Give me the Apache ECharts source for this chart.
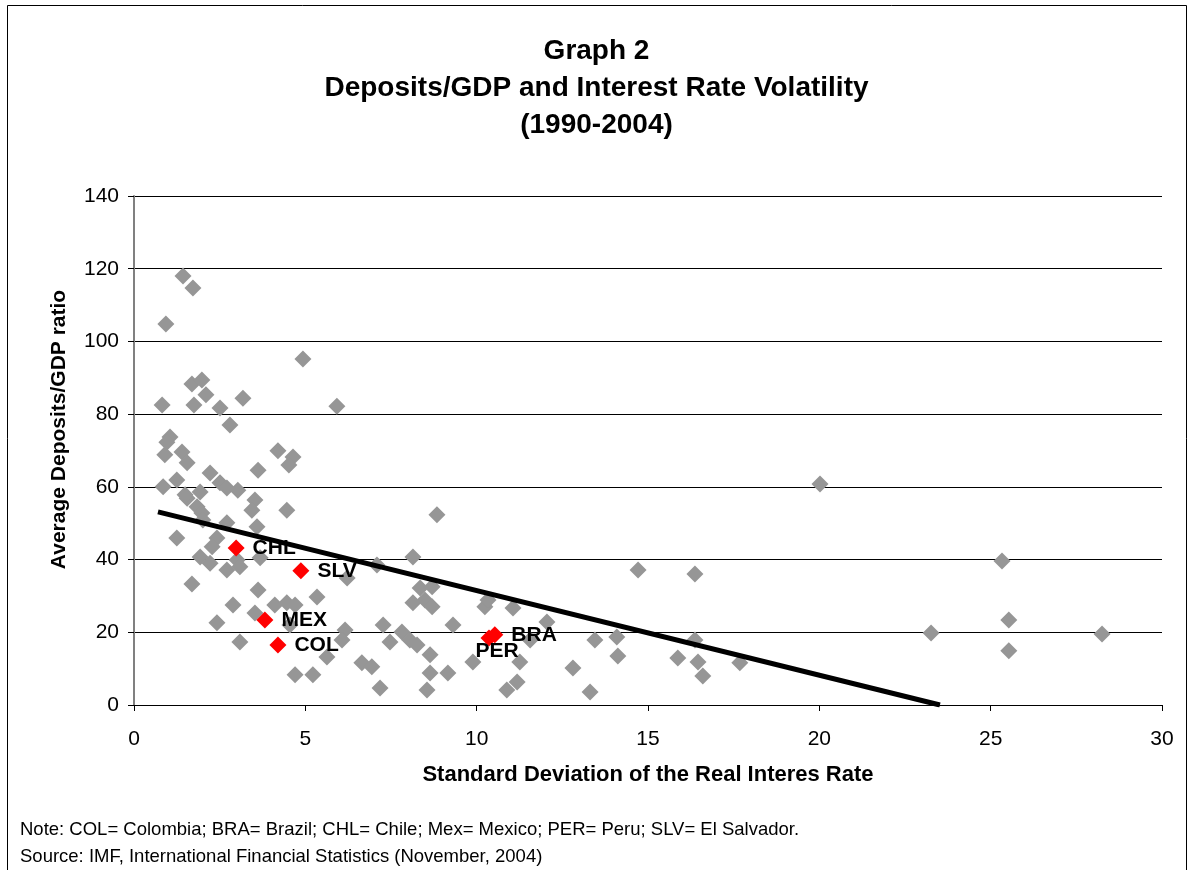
<!DOCTYPE html>
<html>
<head>
<meta charset="utf-8">
<title>Graph 2</title>
<script src="https://cdn.jsdelivr.net/npm/echarts@6/dist/echarts.min.js"></script>
<style>
  html, body { margin: 0; padding: 0; background: #fff; }
  #main { width: 1193px; height: 870px; }
</style>
</head>
<body>
<div id="main"></div>
<script>
// other countries: [std dev of real interest rate, deposits/GDP]
var otherPoints = [
  [1.43, 118], [1.72, 114.7], [0.93, 104.8], [4.93, 95.2], [1.69, 88.3], [1.98, 89.4],
  [2.10, 85.3], [0.82, 82.5], [1.75, 82.5], [2.51, 81.7], [3.18, 84.4], [2.80, 77],
  [5.92, 82.2], [1.05, 73.7], [0.96, 72.3], [1.40, 69.6], [0.90, 68.8], [1.55, 66.6],
  [4.20, 69.9], [4.64, 68.2], [4.52, 66.0], [3.62, 64.6], [2.22, 63.8], [2.51, 61.1],
  [2.71, 59.7], [3.03, 59.1], [0.85, 60.0], [1.25, 61.9], [1.55, 56.9], [1.93, 58.6],
  [1.84, 54.5], [1.98, 52.8], [4.46, 53.6], [3.53, 56.4], [3.44, 53.6], [3.59, 49.0],
  [2.71, 50.1], [1.25, 45.9], [2.42, 45.9], [2.28, 43.5], [1.93, 40.7], [3.01, 39.9],
  [2.01, 50.9], [1.49, 57.8], [2.22, 39.0], [2.71, 37.1], [3.09, 38.0], [3.68, 40.5],
  [1.69, 33.3], [3.62, 31.6], [2.89, 27.5], [5.34, 29.7], [4.11, 27.5], [4.46, 28.1],
  [4.70, 27.5], [3.53, 25.3], [2.42, 22.6], [4.55, 22.0], [3.09, 17.3], [5.63, 13.2],
  [4.70, 8.3], [5.22, 8.3], [8.84, 52.3], [8.14, 40.7], [7.09, 38.5], [6.22, 34.9],
  [8.35, 32.2], [8.70, 32.5], [8.14, 28.1], [8.49, 28.9], [8.70, 27.0], [10.24, 27.0],
  [10.33, 28.9], [11.06, 26.7], [7.27, 22.0], [9.31, 22.0], [6.16, 20.6], [6.07, 17.9],
  [7.82, 20.1], [8.05, 17.9], [8.26, 16.5], [7.47, 17.3], [6.65, 11.6], [6.94, 10.5],
  [8.64, 13.8], [8.64, 8.8], [9.16, 8.8], [9.89, 11.8], [7.18, 4.7], [8.55, 4.1],
  [11.56, 17.9], [11.26, 11.8], [11.18, 6.3], [10.88, 4.1], [12.05, 22.8],
  [14.71, 37.1], [16.37, 36.0], [13.45, 17.9], [14.09, 18.7], [14.12, 13.5], [12.81, 10.2],
  [13.31, 3.6], [15.87, 12.9], [16.37, 17.9], [16.46, 11.8], [16.60, 8.0], [17.68, 11.6],
  [20.02, 60.8], [25.33, 39.6], [25.53, 23.4], [25.53, 14.9], [23.26, 19.8], [28.25, 19.5]
]

// highlighted Latin American countries
var codes = ['CHL', 'SLV', 'MEX', 'COL', 'BRA', 'PER']
var codeX = [2.98, 4.87, 3.82, 4.20, 10.53, 10.36]
var codeY = [43.2, 36.9, 23.4, 16.5, 19.3, 18.4]

// linear trend line end points
var trendX = [0.70, 23.52]
var trendY = [53.1, 0]

var chart = echarts.init(document.getElementById('main'))

var highlighted = codes.map(function (c, i) {
  var item = { name: c, value: [codeX[i], codeY[i]] }
  if (c === 'PER') {
    item.label = { position: 'bottom', distance: 0, offset: [8, -6] }
  }
  return item
})

var option = {
  animation: false,
  backgroundColor: '#fff',
  textStyle: { fontFamily: 'Liberation Sans, Arial, sans-serif' },
  title: {
    text: 'Graph 2\nDeposits/GDP and Interest Rate Volatility\n(1990-2004)',
    left: 'center',
    top: 28,
    textStyle: { fontSize: 28, fontWeight: 'bold', color: '#000', lineHeight: 37 }
  },
  grid: { left: 134, right: 31, top: 196, bottom: 165 },
  xAxis: {
    type: 'value',
    min: 0,
    max: 30,
    interval: 5,
    name: 'Standard Deviation of the Real Interes Rate',
    nameLocation: 'middle',
    nameGap: 59,
    nameTextStyle: { fontSize: 22, fontWeight: 'bold', color: '#000' },
    axisLine: { lineStyle: { color: '#000', width: 1 } },
    axisTick: { inside: false, length: 6, lineStyle: { color: '#000' } },
    axisLabel: { fontSize: 21, color: '#000', margin: 24 },
    splitLine: { show: false }
  },
  yAxis: {
    type: 'value',
    min: 0,
    max: 140,
    interval: 20,
    name: 'Average Deposits/GDP ratio',
    nameLocation: 'middle',
    nameGap: 64,
    nameTextStyle: { fontSize: 21, fontWeight: 'bold', color: '#000', padding: [0, 0, 0, 42] },
    axisLine: { show: true, lineStyle: { color: '#808080', width: 2 } },
    axisTick: { show: true, length: 6, lineStyle: { color: '#000' } },
    axisLabel: { fontSize: 21, color: '#000', margin: 15 },
    splitLine: { show: true, lineStyle: { color: '#000', width: 1 } }
  },
  graphic: [
    {
      type: 'rect',
      shape: { x: 7.5, y: 5.5, width: 1179, height: 880 },
      style: { fill: null, stroke: '#000', lineWidth: 1 },
      silent: true
    },
    {
      type: 'text',
      left: 20,
      top: 816,
      style: {
        text: 'Note: COL= Colombia; BRA= Brazil; CHL= Chile; Mex= Mexico; PER= Peru; SLV= El Salvador.\nSource: IMF, International Financial Statistics (November, 2004)',
        font: '18.5px Liberation Sans, Arial, sans-serif',
        fill: '#000',
        lineHeight: 27
      }
    }
  ],
  series: [
    {
      type: 'scatter',
      symbol: 'diamond',
      symbolSize: 17,
      itemStyle: { color: '#969696', opacity: 1 },
      data: otherPoints,
      z: 2
    },
    {
      type: 'line',
      data: trendX.map(function (x, i) { return [x, trendY[i]] }),
      showSymbol: false,
      symbol: 'none',
      lineStyle: { color: '#000', width: 5 },
      z: 3
    },
    {
      type: 'scatter',
      symbol: 'diamond',
      symbolSize: 17,
      itemStyle: { color: '#ff0000', opacity: 1 },
      label: {
        show: true,
        position: 'right',
        distance: 8,
        formatter: '{b}',
        fontSize: 21,
        fontWeight: 'bold',
        color: '#000'
      },
      data: highlighted,
      z: 4
    }
  ]
}

chart.setOption(option)
</script>
</body>
</html>
